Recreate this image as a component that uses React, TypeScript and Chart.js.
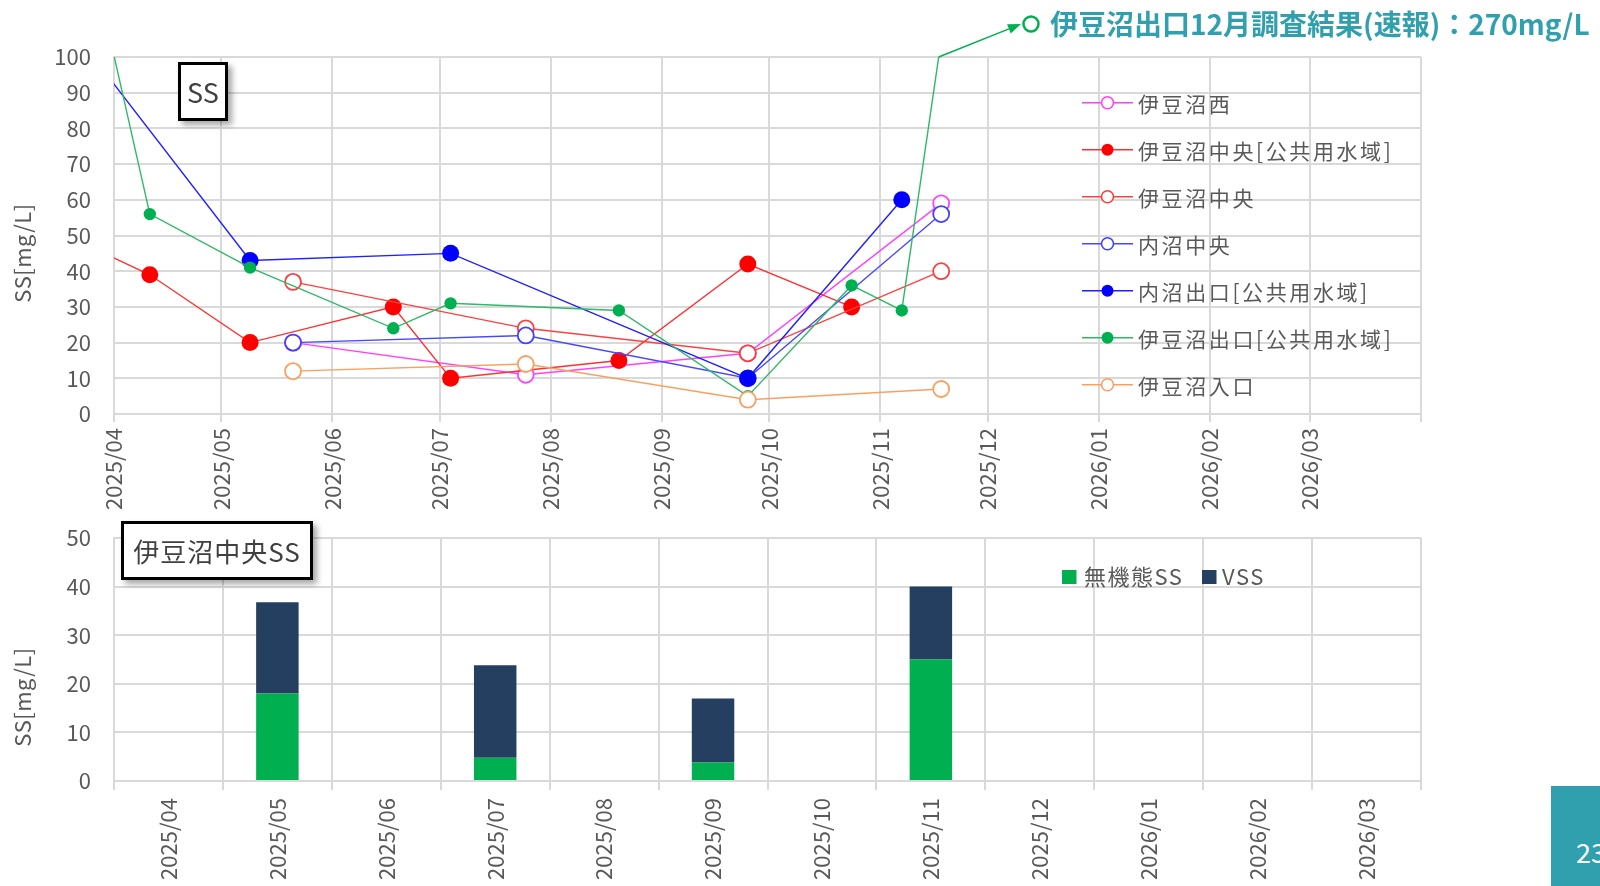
import React, { useEffect, useRef } from "react";
import { Chart, registerables } from "chart.js";

Chart.register(...registerables);

const FONT = "'Noto Sans CJK JP', 'Noto Sans', sans-serif";
const TEXT_GRAY = "#595959";
const GRID = "#D9D9D9";
const TEAL = "#31A0AE";

// ---------- data ----------
const monthLabels = [
  "2025/04", "2025/05", "2025/06", "2025/07", "2025/08", "2025/09",
  "2025/10", "2025/11", "2025/12", "2026/01", "2026/02", "2026/03",
];
const axisEndLabel = "2026/04";

const nishiDates = ["2025-05-21", "2025-07-25", "2025-09-25", "2025-11-18"];
const nishiValues = [20, 11, 17, 59];

const chuoPublicDates = ["2025-03-10", "2025-04-11", "2025-05-09", "2025-06-18", "2025-07-04", "2025-08-20", "2025-09-25", "2025-10-24"];
const chuoPublicValues = [54, 39, 20, 30, 10, 15, 42, 30];

const chuoDates = ["2025-05-21", "2025-07-25", "2025-09-25", "2025-11-18"];
const chuoValues = [37, 24, 17, 40];

const uchiChuoDates = ["2025-05-21", "2025-07-25", "2025-09-25", "2025-11-18"];
const uchiChuoValues = [20, 22, 10, 56];

const uchiOutletDates = ["2025-03-10", "2025-05-09", "2025-07-04", "2025-09-25", "2025-11-07"];
const uchiOutletValues = [121, 43, 45, 10, 60];

const izuOutletDates = ["2025-03-10", "2025-04-11", "2025-05-09", "2025-06-18", "2025-07-04", "2025-08-20", "2025-09-25", "2025-10-24", "2025-11-07", "2025-12-12"];
const izuOutletValues = [198, 56, 41, 24, 31, 29, 5, 36, 29, 270];

const inletDates = ["2025-05-21", "2025-07-25", "2025-09-25", "2025-11-18"];
const inletValues = [12, 14, 4, 7];

const seriesNames = [
  "伊豆沼西", "伊豆沼中央[公共用水域]", "伊豆沼中央", "内沼中央",
  "内沼出口[公共用水域]", "伊豆沼出口[公共用水域]", "伊豆沼入口",
];

const barInorganic = [null, 18, null, 4.8, null, 3.8, null, 25, null, null, null, null];
const barVss = [null, 18.8, null, 19, null, 13.2, null, 15, null, null, null, null];
const barNames = ["無機態SS", "VSS"];

const annotationText = "伊豆沼出口12月調査結果(速報)：270mg/L";
const pageNumber = "23";

// ---------- helpers ----------
function dayOf(s: string): number {
  const [y, m, d] = s.split(/[-/]/).map(Number);
  return (Date.UTC(y, m - 1, d || 1) - Date.UTC(2025, 3, 1)) / 86400000;
}
const monthTicks = [...monthLabels.map((l) => dayOf(l)), dayOf(axisEndLabel)];

const seriesData = [
  [nishiDates, nishiValues],
  [chuoPublicDates, chuoPublicValues],
  [chuoDates, chuoValues],
  [uchiChuoDates, uchiChuoValues],
  [uchiOutletDates, uchiOutletValues],
  [izuOutletDates, izuOutletValues],
  [inletDates, inletValues],
] as [string[], number[]][];

// styles: [marker color, line color, filled, radius]
const seriesStyles: [string, string, boolean, number][] = [
  ["#FF40FF", "#FF40FF", false, 8],
  ["#FF0000", "#FF3030", true, 8.5],
  ["#FF3B3B", "#FF4040", false, 8],
  ["#4040FF", "#4848FF", false, 8],
  ["#0000FF", "#2020FF", true, 8.5],
  ["#00B050", "#30B868", true, 6.2],
  ["#F9A060", "#F9A060", false, 8],
];

function drawYTitle(ctx: CanvasRenderingContext2D, x: number, y: number) {
  ctx.save();
  ctx.translate(x, y);
  ctx.rotate(-Math.PI / 2);
  ctx.font = `22px ${FONT}`;
  ctx.fillStyle = TEXT_GRAY;
  ctx.textAlign = "center";
  ctx.textBaseline = "middle";
  (ctx as any).letterSpacing = "0.5px";
  ctx.fillText("SS[mg/L]", 0, 0);
  ctx.restore();
}

const topOverlay = {
  id: "topOverlay",
  afterDraw(chart: any) {
    const ctx: CanvasRenderingContext2D = chart.ctx;
    drawYTitle(ctx, 23, 253);

    // legend
    chart.data.datasets.forEach((ds: any, i: number) => {
      const y = 102.7 + i * 47;
      ctx.save();
      ctx.strokeStyle = ds.borderColor;
      ctx.lineWidth = 1.6;
      ctx.beginPath();
      ctx.moveTo(1082, y);
      ctx.lineTo(1133, y);
      ctx.stroke();
      ctx.beginPath();
      ctx.arc(1107.5, y, 6, 0, Math.PI * 2);
      ctx.fillStyle = ds.pointBackgroundColor;
      ctx.fill();
      if (ds.pointBorderWidth > 0) {
        ctx.lineWidth = 1.6;
        ctx.strokeStyle = ds.pointBorderColor;
        ctx.stroke();
      }
      ctx.font = `21px ${FONT}`;
      (ctx as any).letterSpacing = "2.6px";
      ctx.fillStyle = TEXT_GRAY;
      ctx.textAlign = "left";
      ctx.textBaseline = "middle";
      ctx.fillText(ds.label, 1138, y + 1);
      ctx.restore();
    });

    // annotation arrow from where 伊豆沼出口 leaves the plot
    const xs = chart.scales.x;
    const ys = chart.scales.y;
    const pts = chart.data.datasets[5].data as { x: number; y: number }[];
    const maxY = ys.max;
    let sx = 0, sy = 0;
    for (let i = 0; i < pts.length - 1; i++) {
      const a = pts[i], b = pts[i + 1];
      if (a.y <= maxY && b.y > maxY) {
        const t = (maxY - a.y) / (b.y - a.y);
        sx = xs.getPixelForValue(a.x + t * (b.x - a.x));
        sy = ys.getPixelForValue(maxY);
      }
    }
    const tipX = 1021, tipY = 24;
    const ang = Math.atan2(tipY - sy, tipX - sx);
    const headLen = 13, headW = 5;
    ctx.save();
    ctx.strokeStyle = "#00B050";
    ctx.fillStyle = "#00B050";
    ctx.lineWidth = 1.5;
    ctx.beginPath();
    ctx.moveTo(sx, sy);
    ctx.lineTo(tipX - Math.cos(ang) * headLen, tipY - Math.sin(ang) * headLen);
    ctx.stroke();
    ctx.beginPath();
    ctx.moveTo(tipX, tipY);
    ctx.lineTo(tipX - Math.cos(ang) * headLen - Math.sin(ang) * headW, tipY - Math.sin(ang) * headLen + Math.cos(ang) * headW);
    ctx.lineTo(tipX - Math.cos(ang) * headLen + Math.sin(ang) * headW, tipY - Math.sin(ang) * headLen - Math.cos(ang) * headW);
    ctx.closePath();
    ctx.fill();
    ctx.beginPath();
    ctx.arc(1031, 24, 7.5, 0, Math.PI * 2);
    ctx.lineWidth = 2.5;
    ctx.stroke();
    ctx.font = `bold 28px ${FONT}`;
    (ctx as any).letterSpacing = "0px";
    ctx.fillStyle = TEAL;
    ctx.textAlign = "left";
    ctx.textBaseline = "middle";
    ctx.fillText(annotationText, 1050, 24);
    ctx.restore();
  },
};

const bottomOverlay = {
  id: "bottomOverlay",
  afterDraw(chart: any) {
    const ctx: CanvasRenderingContext2D = chart.ctx;
    drawYTitle(ctx, 23, 217);
    const entries = [
      [1062, 1084, chart.data.datasets[0]],
      [1202, 1222, chart.data.datasets[1]],
    ];
    entries.forEach(([bx, tx, ds]: any) => {
      ctx.save();
      ctx.fillStyle = ds.backgroundColor;
      ctx.fillRect(bx, 97 - 7, 14.5, 14);
      ctx.font = `22px ${FONT}`;
      (ctx as any).letterSpacing = "1.5px";
      ctx.fillStyle = TEXT_GRAY;
      ctx.textAlign = "left";
      ctx.textBaseline = "middle";
      ctx.fillText(ds.label, tx, 97);
      ctx.restore();
    });
  },
};

const tickFont = { family: FONT, size: 22 };

export default function App() {
  const topRef = useRef<HTMLCanvasElement>(null);
  const botRef = useRef<HTMLCanvasElement>(null);

  useEffect(() => {
    const datasets = seriesNames.map((name, i) => {
      const [dates, values] = seriesData[i];
      const [mc, lc, filled, r] = seriesStyles[i];
      return {
        label: name,
        data: dates.map((d, j) => ({ x: dayOf(d), y: values[j] })),
        borderColor: lc,
        borderWidth: 1.4,
        pointRadius: r,
        pointHoverRadius: r,
        pointBackgroundColor: filled ? mc : "#FFFFFF",
        pointBorderColor: mc,
        pointBorderWidth: filled ? 0 : 1.8,
        tension: 0,
        order: seriesNames.length - i,
      };
    });

    const top = new Chart(topRef.current!, {
      type: "line",
      data: { datasets },
      options: {
        animation: false,
        responsive: false,
        maintainAspectRatio: false,
        layout: { padding: { left: 0, top: 57, right: 179, bottom: 0 } },
        plugins: { legend: { display: false }, tooltip: { enabled: false } },
        scales: {
          x: {
            type: "linear",
            min: 0,
            max: dayOf(axisEndLabel),
            afterBuildTicks: (s: any) => {
              s.ticks = monthTicks.map((v) => ({ value: v }));
            },
            afterFit: (s: any) => {
              s.height = 116;
            },
            ticks: {
              autoSkip: false,
              maxRotation: 90,
              minRotation: 90,
              padding: 6,
              color: TEXT_GRAY,
              font: tickFont,
              callback: (_v: any, idx: number) => monthLabels[idx] ?? "",
            },
            grid: { color: GRID, lineWidth: 2, tickLength: 8, drawTicks: true },
            border: { color: GRID, width: 2 },
          },
          y: {
            min: 0,
            max: 100,
            afterFit: (s: any) => {
              s.width = 114;
            },
            ticks: { stepSize: 10, padding: 23, color: TEXT_GRAY, font: tickFont },
            grid: { color: GRID, lineWidth: 2, drawTicks: false },
            border: { color: GRID, width: 2 },
          },
        },
      },
      plugins: [topOverlay],
    } as any);

    const bottom = new Chart(botRef.current!, {
      type: "bar",
      data: {
        labels: monthLabels,
        datasets: [
          { label: barNames[0], data: barInorganic, backgroundColor: "#00B050", barPercentage: 0.39, categoryPercentage: 1 },
          { label: barNames[1], data: barVss, backgroundColor: "#243F60", barPercentage: 0.39, categoryPercentage: 1 },
        ],
      },
      options: {
        animation: false,
        responsive: false,
        maintainAspectRatio: false,
        layout: { padding: { left: 0, top: 58, right: 179, bottom: 0 } },
        plugins: { legend: { display: false }, tooltip: { enabled: false } },
        scales: {
          x: {
            stacked: true,
            afterFit: (s: any) => {
              s.height = 105;
            },
            ticks: {
              autoSkip: false,
              maxRotation: 90,
              minRotation: 90,
              padding: 8,
              color: TEXT_GRAY,
              font: tickFont,
            },
            grid: { offset: true, color: GRID, lineWidth: 2, tickLength: 9, drawTicks: true },
            border: { color: GRID, width: 2 },
          },
          y: {
            stacked: true,
            min: 0,
            max: 50,
            afterFit: (s: any) => {
              s.width = 114;
            },
            ticks: { stepSize: 10, padding: 23, color: TEXT_GRAY, font: tickFont },
            grid: { color: GRID, lineWidth: 2, drawTicks: false },
            border: { color: GRID, width: 2 },
          },
        },
      },
      plugins: [bottomOverlay],
    } as any);

    return () => {
      top.destroy();
      bottom.destroy();
    };
  }, []);

  const boxBase: React.CSSProperties = {
    position: "absolute",
    boxSizing: "border-box",
    border: "3px solid #000",
    background: "#fff",
    boxShadow: "4px 4px 6px rgba(0,0,0,0.35)",
    color: "#404040",
    fontFamily: FONT,
    display: "flex",
    alignItems: "center",
    justifyContent: "center",
  };

  return (
    <div style={{ position: "absolute", left: 0, top: 0, width: 1600, height: 886, overflow: "hidden", background: "#fff" }}>
      <canvas ref={topRef} width={1600} height={530} style={{ position: "absolute", left: 0, top: 0, width: 1600, height: 530 }} />
      <canvas ref={botRef} width={1600} height={406} style={{ position: "absolute", left: 0, top: 480, width: 1600, height: 406 }} />
      <div style={{ ...boxBase, left: 178, top: 62, width: 50, height: 59, fontSize: 27 }}>SS</div>
      <div style={{ ...boxBase, left: 121, top: 521, width: 192, height: 59, fontSize: 26, letterSpacing: "1px" }}>伊豆沼中央SS</div>
      <div style={{ position: "absolute", left: 1551, top: 786, width: 60, height: 100, background: TEAL }}>
        <span style={{ position: "absolute", left: 25, top: 50, lineHeight: "32px", fontSize: 27, color: "#fff", fontFamily: FONT }}>{pageNumber}</span>
      </div>
    </div>
  );
}
